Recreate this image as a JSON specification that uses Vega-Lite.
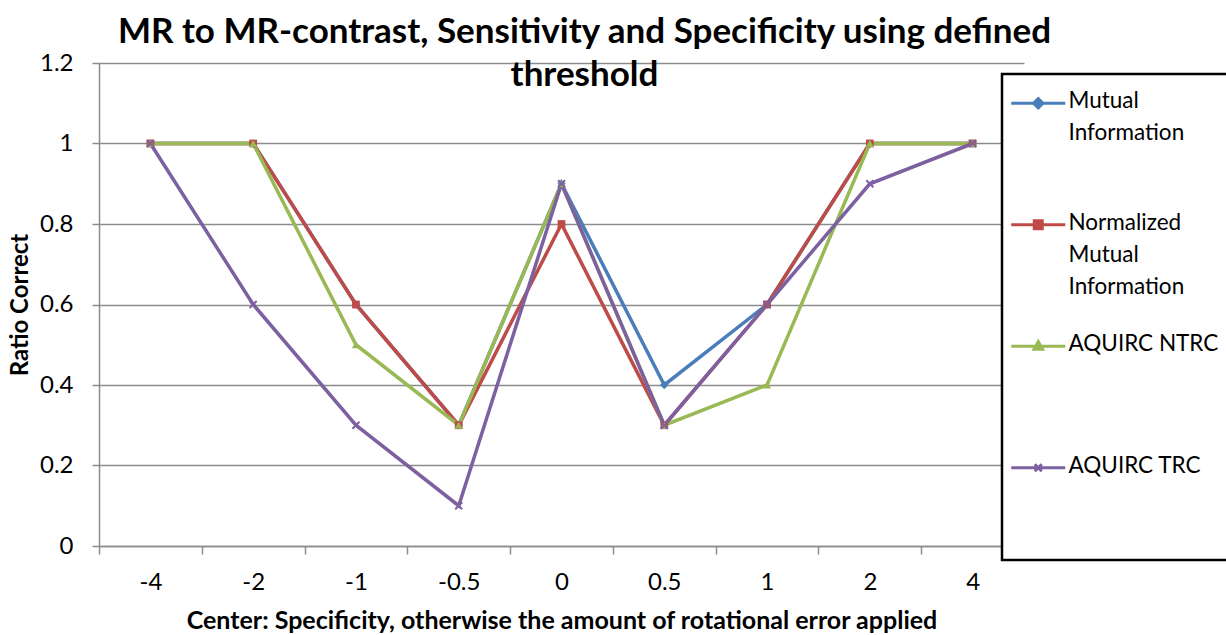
{
  "$schema": "https://vega.github.io/schema/vega-lite/v6.json",
  "width": 925,
  "height": 483,
  "autosize": "none",
  "padding": {"left": 99, "top": 63, "right": 202, "bottom": 89},
  "background": "white",
  "config": {
    "font": "Lato",
    "view": {"stroke": null}
  },
  "title": {
    "text": ["MR to MR-contrast, Sensitivity and Specificity using defined", "threshold"],
    "font": "Lato",
    "fontSize": 35,
    "fontWeight": "bold",
    "color": "black",
    "anchor": "middle",
    "lineHeight": 43,
    "dx": 23,
    "offset": -42
  },
  "data": {
    "values": [
      {"x": "-4", "series": "Mutual Information", "v": 1},
      {"x": "-2", "series": "Mutual Information", "v": 1},
      {"x": "-1", "series": "Mutual Information", "v": 0.6},
      {"x": "-0.5", "series": "Mutual Information", "v": 0.3},
      {"x": "0", "series": "Mutual Information", "v": 0.9},
      {"x": "0.5", "series": "Mutual Information", "v": 0.4},
      {"x": "1", "series": "Mutual Information", "v": 0.6},
      {"x": "2", "series": "Mutual Information", "v": 1},
      {"x": "4", "series": "Mutual Information", "v": 1},
      {"x": "-4", "series": "Normalized Mutual Information", "v": 1},
      {"x": "-2", "series": "Normalized Mutual Information", "v": 1},
      {"x": "-1", "series": "Normalized Mutual Information", "v": 0.6},
      {"x": "-0.5", "series": "Normalized Mutual Information", "v": 0.3},
      {"x": "0", "series": "Normalized Mutual Information", "v": 0.8},
      {"x": "0.5", "series": "Normalized Mutual Information", "v": 0.3},
      {"x": "1", "series": "Normalized Mutual Information", "v": 0.6},
      {"x": "2", "series": "Normalized Mutual Information", "v": 1},
      {"x": "4", "series": "Normalized Mutual Information", "v": 1},
      {"x": "-4", "series": "AQUIRC NTRC", "v": 1},
      {"x": "-2", "series": "AQUIRC NTRC", "v": 1},
      {"x": "-1", "series": "AQUIRC NTRC", "v": 0.5},
      {"x": "-0.5", "series": "AQUIRC NTRC", "v": 0.3},
      {"x": "0", "series": "AQUIRC NTRC", "v": 0.9},
      {"x": "0.5", "series": "AQUIRC NTRC", "v": 0.3},
      {"x": "1", "series": "AQUIRC NTRC", "v": 0.4},
      {"x": "2", "series": "AQUIRC NTRC", "v": 1},
      {"x": "4", "series": "AQUIRC NTRC", "v": 1},
      {"x": "-4", "series": "AQUIRC TRC", "v": 1},
      {"x": "-2", "series": "AQUIRC TRC", "v": 0.6},
      {"x": "-1", "series": "AQUIRC TRC", "v": 0.3},
      {"x": "-0.5", "series": "AQUIRC TRC", "v": 0.1},
      {"x": "0", "series": "AQUIRC TRC", "v": 0.9},
      {"x": "0.5", "series": "AQUIRC TRC", "v": 0.3},
      {"x": "1", "series": "AQUIRC TRC", "v": 0.6},
      {"x": "2", "series": "AQUIRC TRC", "v": 0.9},
      {"x": "4", "series": "AQUIRC TRC", "v": 1}
    ]
  },
  "encoding": {
    "x": {
      "field": "x",
      "type": "ordinal",
      "sort": ["-4", "-2", "-1", "-0.5", "0", "0.5", "1", "2", "4"],
      "scale": {"type": "point", "padding": 0.5},
      "axis": {
        "title": "Center: Specificity, otherwise the amount of rotational error applied",
        "titleFont": "Lato",
        "titleFontSize": 25,
        "titleFontWeight": "bold",
        "titleColor": "black",
        "titleX": 462.5,
        "titleY": 74,
        "titleBaseline": "middle",
        "titleAlign": "center",
        "labelAngle": 0,
        "labelFont": "Lato",
        "labelFontSize": 24,
        "labelColor": "black",
        "labelPadding": 16,
        "tickOffset": -51.39,
        "labelOffset": 51.39,
        "tickSize": 8,
        "tickColor": "#8c8c8c",
        "tickWidth": 1.5,
        "domainColor": "#8c8c8c",
        "domainWidth": 1.5,
        "grid": false
      }
    },
    "y": {
      "field": "v",
      "type": "quantitative",
      "scale": {"domain": [0, 1.2]},
      "axis": {
        "values": [0, 0.2, 0.4, 0.6, 0.8, 1, 1.2],
        "format": "~g",
        "title": "Ratio Correct",
        "titleFont": "Lato",
        "titleFontSize": 24,
        "titleFontWeight": "bold",
        "titleColor": "black",
        "titleAngle": -90,
        "titleX": -79,
        "titleY": 241.5,
        "titleAlign": "center",
        "titleBaseline": "middle",
        "labelFont": "Lato",
        "labelFontSize": 24,
        "labelColor": "black",
        "labelPadding": 19,
        "tickSize": 7,
        "tickColor": "#8c8c8c",
        "tickWidth": 1.5,
        "domainColor": "#8c8c8c",
        "domainWidth": 1.5,
        "grid": true,
        "gridColor": "#8c8c8c",
        "gridWidth": 1.5
      }
    }
  },
  "layer": [
    {
      "mark": {"type": "line", "strokeWidth": 3.5},
      "encoding": {
        "color": {
          "field": "series",
          "type": "nominal",
          "sort": ["Mutual Information", "Normalized Mutual Information", "AQUIRC NTRC", "AQUIRC TRC"],
          "scale": {
            "domain": ["Mutual Information", "Normalized Mutual Information", "AQUIRC NTRC", "AQUIRC TRC"],
            "range": ["#4A7EBB", "#BE4B48", "#98B954", "#7D60A0"]
          },
          "legend": {
            "orient": "none",
            "legendX": 903,
            "legendY": 11,
            "title": null,
            "direction": "vertical",
            "gridAlign": "all",
            "rowPadding": 34.5,
            "padding": 18,
            "fillColor": "white",
            "strokeColor": "black",
            "symbolSize": 100,
            "symbolStrokeWidth": 3,
            "labelFont": "Lato",
            "labelFontSize": 22.5,
            "labelColor": "black",
            "labelBaseline": "top",
            "labelOffset": 26,
            "labelLimit": 400,
            "labelExpr": "datum.label == 'Mutual Information' ? ['Mutual', 'Information'] : datum.label == 'Normalized Mutual Information' ? ['Normalized', 'Mutual', 'Information'] : datum.label == 'AQUIRC TRC' ? ['AQUIRC TRC', '', ''] : datum.label",
            "encode": {
              "legend": {"update": {"strokeWidth": {"value": 2.5}}},
              "symbols": {
                "update": {
                  "shape": {"signal": "datum.value == 'Mutual Information' ? 'M-4,0L6.8,0M1.4,-0.95L2.35,0L1.4,0.95L0.45,0Z' : datum.value == 'Normalized Mutual Information' ? 'M-4,0L6.8,0M0.6,-0.8L2.2,-0.8L2.2,0.8L0.6,0.8Z' : datum.value == 'AQUIRC NTRC' ? 'M-4,0L6.8,0M1.4,-0.95L2.25,0.6L0.55,0.6Z' : 'M-4,0L6.8,0M0.7,-0.7L2.1,0.7M0.7,0.7L2.1,-0.7'"},
                  "fill": {"scale": "color", "field": "value"},
                  "stroke": {"scale": "color", "field": "value"},
                  "strokeWidth": {"value": 3}
                }
              },
              "labels": {"update": {"dy": {"value": -13}, "lineHeight": {"value": 32}}}
            }
          }
        }
      }
    },
    {
      "transform": [{"filter": "datum.series == 'Mutual Information'"}],
      "mark": {"type": "point", "shape": "diamond", "filled": true, "size": 70, "color": "#4A7EBB", "opacity": 1}
    },
    {
      "transform": [{"filter": "datum.series == 'Normalized Mutual Information'"}],
      "mark": {"type": "point", "shape": "square", "filled": true, "size": 60, "color": "#BE4B48", "opacity": 1}
    },
    {
      "transform": [{"filter": "datum.series == 'AQUIRC NTRC'"}],
      "mark": {"type": "point", "shape": "triangle-up", "filled": true, "size": 65, "color": "#98B954", "opacity": 1}
    },
    {
      "transform": [{"filter": "datum.series == 'AQUIRC TRC'"}],
      "mark": {"type": "point", "shape": "M-1,-1L1,1M-1,1L1,-1", "filled": false, "size": 50, "strokeWidth": 2, "color": "#7D60A0", "opacity": 1}
    }
  ]
}
